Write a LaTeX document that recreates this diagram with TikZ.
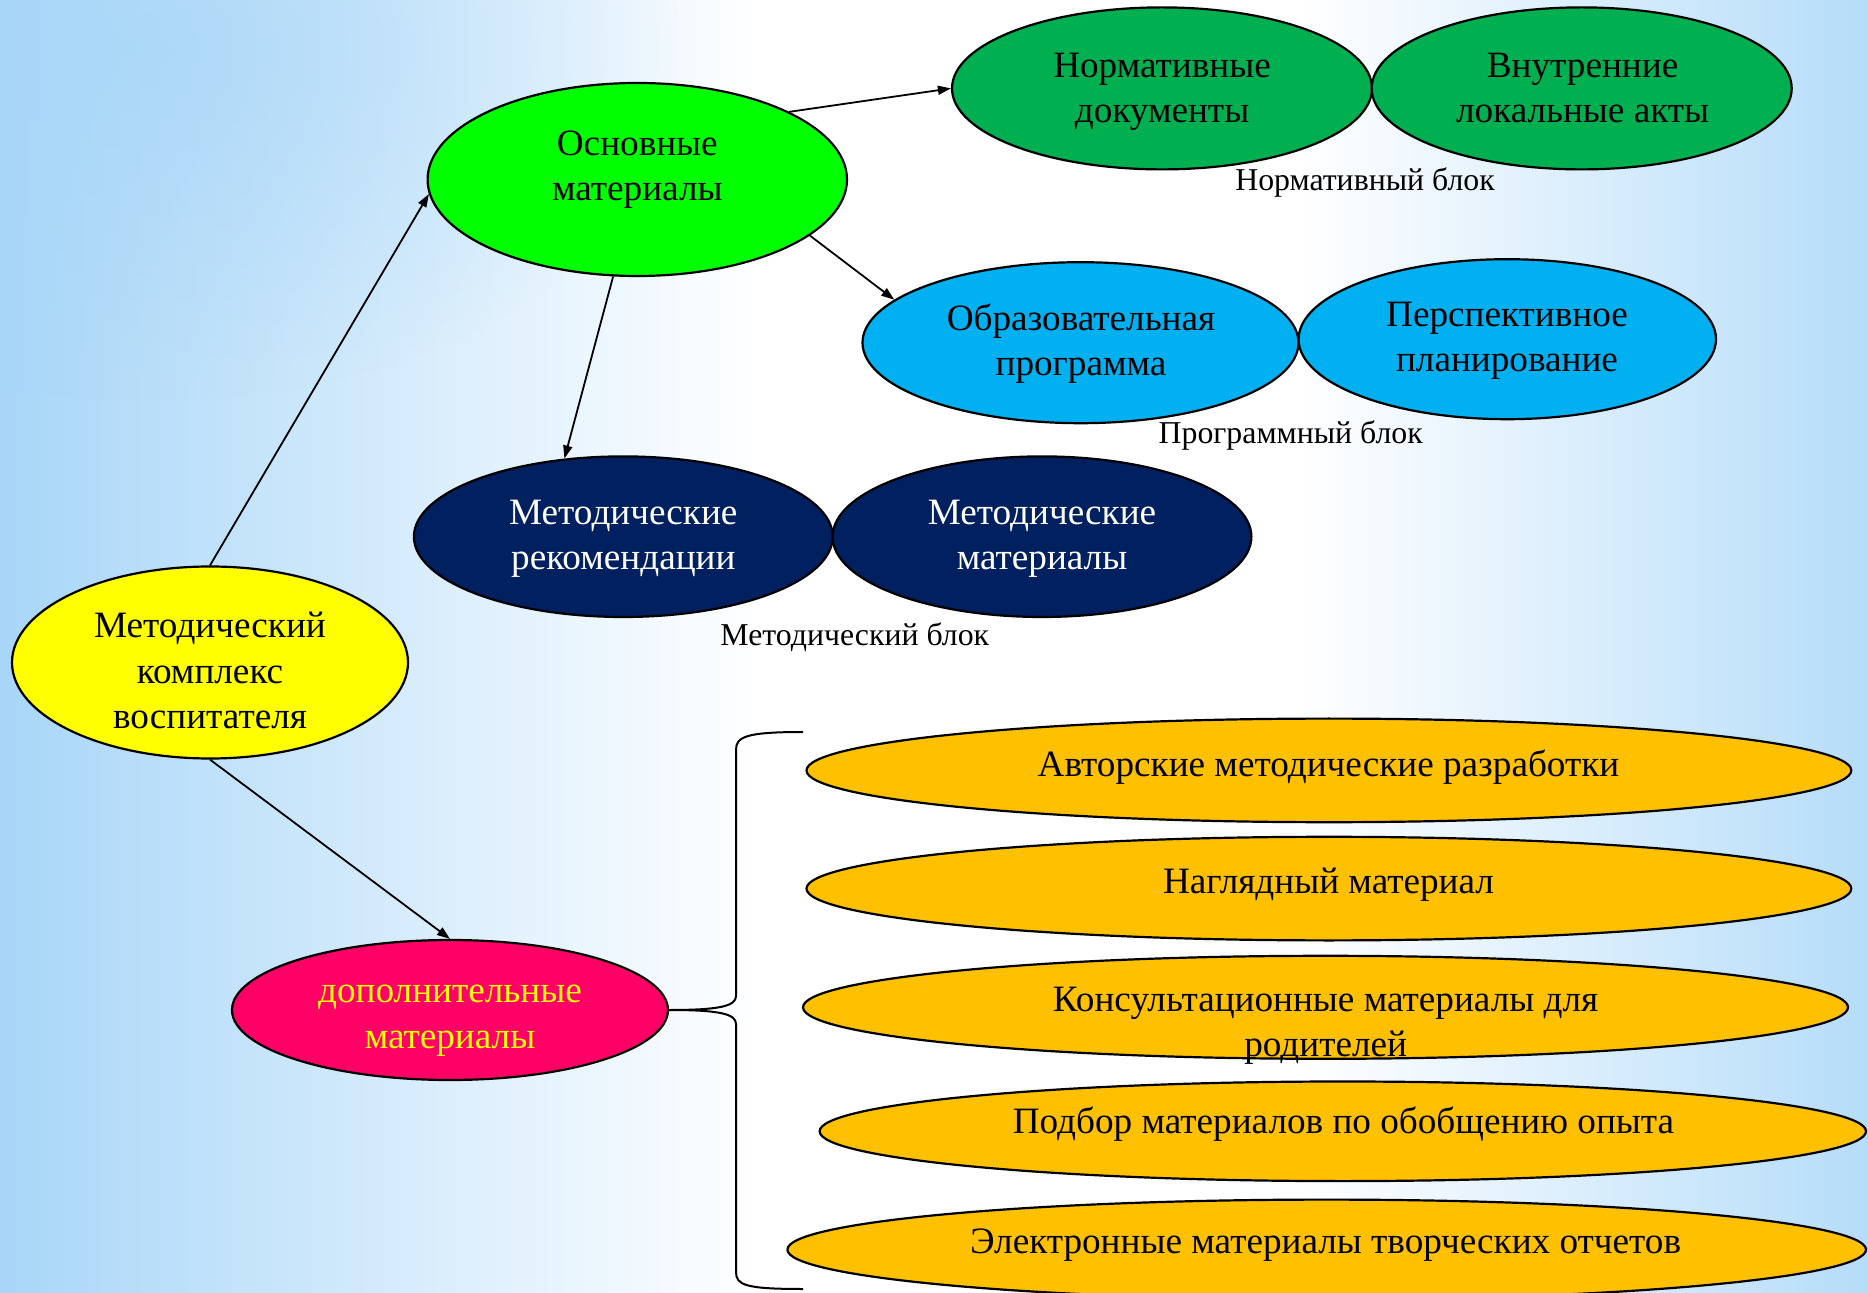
\documentclass[tikz,border=0pt]{standalone}
\usepackage{fontspec}
\setmainfont{Liberation Serif}
\newfontfamily\tnr{Liberation Serif}
\usetikzlibrary{shapes.geometric,arrows.meta,fadings}
\definecolor{bgblue}{RGB}{168,214,248}
\definecolor{cyel}{RGB}{255,255,0}
\definecolor{cgrn}{RGB}{0,255,0}
\definecolor{cdgrn}{RGB}{0,176,80}
\definecolor{clblue}{RGB}{0,176,240}
\definecolor{cnavy}{RGB}{0,32,96}
\definecolor{cred}{RGB}{255,0,102}
\definecolor{corange}{RGB}{255,192,0}
\tikzfading[name=bandfade, top color=transparent!100, middle color=transparent!35, bottom color=transparent!100]
\tikzfading[name=cornerfade, inner color=transparent!30, outer color=transparent!100]
\tikzset{
  ell/.style={ellipse, draw=black, line width=1.1pt, inner sep=0pt},
  txt/.style={align=center, inner sep=0pt, font=\tnr\fontsize{18.6}{22.6}\selectfont},
  lbl/.style={inner sep=0pt, font=\tnr\fontsize{15.9}{19}\selectfont},
  arr/.style={line width=0.9pt, -{Triangle[length=6.5pt,width=4.5pt]}},
  bracepath/.style={line width=1pt}
}
\begin{document}
\begin{tikzpicture}[x=0.5pt,y=-0.5pt]
% background
\fill[white] (0,0) rectangle (1868,1293);
\useasboundingbox (0,0) rectangle (1868,1293);
\shade[left color=bgblue, right color=white] (0,0) rectangle (760,1293);
\shade[left color=white, right color=bgblue!85] (1300,0) rectangle (1868,1293);
\shade[left color=bgblue, right color=white, path fading=bandfade] (0,840) rectangle (900,1040);
\fill[bgblue, path fading=cornerfade] (-400,-300) rectangle (700,400);

% brace
\coordinate (btop) at (803,732);
\coordinate (bbot) at (803,1289);

% ellipses
\node[ell, fill=cyel, minimum width=198pt, minimum height=96pt] (yel) at (210,662.5) {};
\node[ell, fill=cgrn, minimum width=209.7pt, minimum height=96.5pt] (grn) at (637.3,179.5) {};
\node[ell, fill=cdgrn, minimum width=210pt, minimum height=81pt] (norm) at (1162,88.4) {};
\node[ell, fill=cdgrn, minimum width=210pt, minimum height=81pt] (vnut) at (1581.7,88.4) {};
\node[ell, fill=clblue, minimum width=218pt, minimum height=80.5pt] (obr) at (1080.5,342.7) {};
\node[ell, fill=clblue, minimum width=208.7pt, minimum height=80pt] (persp) at (1507.3,339.2) {};
\node[ell, fill=cnavy, minimum width=209.4pt, minimum height=80.3pt] (mrek) at (623.3,536.7) {};
\node[ell, fill=cnavy, minimum width=209.4pt, minimum height=80.3pt] (mmat) at (1042,536.7) {};
\node[ell, fill=cred, minimum width=218pt, minimum height=70pt] (red) at (450,1010) {};
\node[ell, fill=corange, minimum width=522.4pt, minimum height=51.8pt] (oa) at (1328.9,770.4) {};
\node[ell, fill=corange, minimum width=522.4pt, minimum height=51.8pt] (ob) at (1328.9,888.6) {};
\node[ell, fill=corange, minimum width=522.5pt, minimum height=51.5pt] (oc) at (1325.5,1007.3) {};
\node[ell, fill=corange, minimum width=523.2pt, minimum height=49.8pt] (od) at (1342.8,1131.3) {};
\node[ell, fill=corange, minimum width=539.3pt, minimum height=50pt] (oe) at (1326.7,1249.6) {};

\draw[bracepath] (btop) .. controls (745,732) and (736,737) .. (736,750) -- (736,996)
  .. controls (736,1006) and (720,1010) .. (red.east)
  .. controls (720,1010) and (736,1014) .. (736,1024) -- (736,1272)
  .. controls (736,1285) and (745,1289) .. (bbot);

% texts
\node[txt] (tyel) at (210,670.5) {Методический\\комплекс\\воспитателя};
\node[txt] (tgrn) at (637.3,170) {Основные\\материалы};
\node[txt] (tnorm) at (1162,92) {Нормативные\\документы};
\node[txt] (tvnut) at (1582.6,88.4) {Внутренние\\локальные акты};
\node[txt] (tobr) at (1081,343.5) {Образовательная\\программа};
\node[txt] (tpersp) at (1507,341) {Перспективное\\планирование};
\node[txt, text=white] (tmrek) at (623.3,539) {Методические\\рекомендации};
\node[txt, text=white] (tmmat) at (1042,539) {Методические\\материалы};
\node[txt, text=cyel] (tred) at (450,1020.7) {дополнительные\\материалы};
\node[txt] (toa) at (1328.5,767) {Авторские методические разработки};
\node[txt] (tob) at (1328.5,885) {Наглядный материал};
\node[txt] (toc) at (1325.6,1025.5) {Консультационные материалы для\\родителей};
\node[txt] (tod) at (1343.5,1124.5) {Подбор материалов по обобщению опыта};
\node[txt] (toe) at (1325.6,1245.5) {Электронные материалы творческих отчетов};

\node[lbl] (lnorm) at (1365,182.6) {Нормативный блок};
\node[lbl] (lprog) at (1290.7,435.7) {Программный блок};
\node[lbl] (lmet) at (854.8,637) {Методический блок};

% arrows
\draw[arr] (yel.north) -- (grn.184);
\draw[arr] (grn.24) -- (norm.west);
\draw[arr] (grn.-18) -- (obr.167);
\draw[arr] (grn.256) -- (mrek.127);
\draw[arr] (yel.south) -- (red.north);
\end{tikzpicture}
\end{document}
